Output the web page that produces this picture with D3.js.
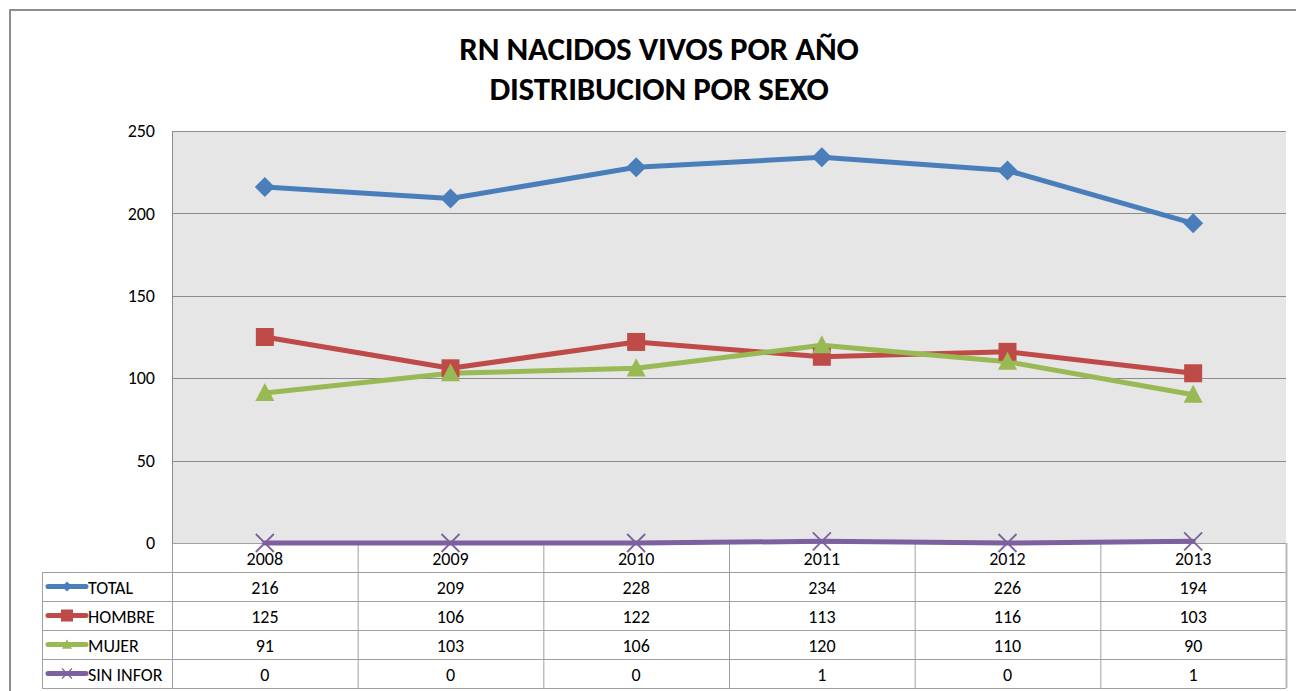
<!DOCTYPE html>
<html><head><meta charset="utf-8">
<script src="https://cdn.jsdelivr.net/npm/d3@7"></script>
<style>body{margin:0;background:#fff;}svg{display:block;font-family:Carlito,Lato,"Open Sans",sans-serif;}</style>
</head><body><svg id="c" width="1296" height="691"></svg>
<script>
const years = ["2008","2009","2010","2011","2012","2013"];
const seriesNames = ["TOTAL","HOMBRE","MUJER","SIN INFOR"];
const total = [216,209,228,234,226,194];
const hombre = [125,106,122,113,116,103];
const mujer = [91,103,106,120,110,90];
const sinInfor = [0,0,0,1,0,1];
const yTicks = [0,50,100,150,200,250];
const colors = ["#4a7ebb","#be4b48","#98b954","#7d60a0"];
const markers = ["diamond","square","triangle","x"];
const allValues = [total,hombre,mujer,sinInfor];

const svg = d3.select("#c");
svg.append("rect").attr("x",10).attr("y",10).attr("width",1300).attr("height",700)
  .attr("fill","#fff").attr("stroke","#8e8e8e").attr("stroke-width",2);

svg.append("text").attr("x",659).attr("y",60).attr("text-anchor","middle")
  .attr("font-size",33).attr("font-weight","bold").attr("fill","#000").attr("letter-spacing",-0.2).text("RN NACIDOS VIVOS POR AÑO");
svg.append("text").attr("x",659).attr("y",100).attr("text-anchor","middle")
  .attr("font-size",33).attr("font-weight","bold").attr("fill","#000").attr("letter-spacing",-0.2).text("DISTRIBUCION POR SEXO");

const L=172,R=1286,T=131,B=543;
const x = d3.scaleBand().domain(years).range([L,R]);
const y = d3.scaleLinear().domain([0,250]).range([B,T]);
const cx = yr => x(yr)+x.bandwidth()/2;

svg.append("rect").attr("x",L).attr("y",T).attr("width",R-L).attr("height",B-T).attr("fill","#e6e6e6");
svg.append("g").selectAll("line").data(yTicks).join("line")
  .attr("x1",L).attr("x2",R).attr("y1",d=>Math.round(y(d))+0.5).attr("y2",d=>Math.round(y(d))+0.5)
  .attr("stroke","#8c8c8c").attr("stroke-width",1);
svg.append("line").attr("x1",L+0.5).attr("x2",L+0.5).attr("y1",T).attr("y2",B).attr("stroke","#8c8c8c");

const yAxis = d3.axisLeft(y).tickValues(yTicks).tickSize(0).tickPadding(17);
const ya = svg.append("g").attr("transform",`translate(${L},0)`).call(yAxis);
ya.select(".domain").remove();
ya.selectAll("text").attr("font-size",18).attr("fill","#000").attr("font-family","Carlito,Lato,'Open Sans',sans-serif");

const rowH = 29;
const tg = svg.append("g");
const tableStroke = "#a0a0a0";
for(let i=0;i<=seriesNames.length+1;i++){
  const yy = B + i*rowH;
  tg.append("line").attr("x1", i===0?L:42).attr("x2",R).attr("y1",yy+0.5).attr("y2",yy+0.5).attr("stroke",tableStroke);
}
years.forEach(yr=>{
  tg.append("line").attr("x1",x(yr)+0.5).attr("x2",x(yr)+0.5).attr("y1",B).attr("y2",B+5*rowH).attr("stroke",tableStroke);
});
tg.append("line").attr("x1",R+0.5).attr("x2",R+0.5).attr("y1",B).attr("y2",B+5*rowH).attr("stroke","#b8b8b8").attr("stroke-width",2);
tg.append("line").attr("x1",42.5).attr("x2",42.5).attr("y1",B+rowH).attr("y2",B+5*rowH).attr("stroke",tableStroke);

tg.selectAll("text.yr").data(years).join("text").attr("class","yr")
  .attr("x",d=>cx(d)).attr("y",B+rowH/2+7).attr("text-anchor","middle")
  .attr("font-size",18).attr("fill","#000").text(d=>d);

function markerPath(type, s){
  const h=s/2;
  if(type==="diamond") return `M0,${-h}L${h},0L0,${h}L${-h},0Z`;
  if(type==="square") return `M${-h},${-h}H${h}V${h}H${-h}Z`;
  if(type==="triangle") return `M0,${-h*1.05}L${h},${h*0.85}L${-h},${h*0.85}Z`;
  return `M${-h},${-h}L${h},${h}M${h},${-h}L${-h},${h}`;
}

allValues.forEach((vals,si)=>{
  const ry = B + (si+1)*rowH;
  tg.selectAll("text.v"+si).data(vals).join("text")
    .attr("x",(d,i)=>cx(years[i])).attr("y",ry+rowH/2+7).attr("text-anchor","middle")
    .attr("font-size",18).attr("fill","#000").text(d=>d);
  const ky = ry+rowH/2;
  tg.append("line").attr("x1",48).attr("x2",86).attr("y1",ky).attr("y2",ky)
    .attr("stroke",colors[si]).attr("stroke-width",5).attr("stroke-linecap","round");
  const m = tg.append("path").attr("d", markerPath(markers[si], markers[si]==="square"?12:10))
    .attr("transform",`translate(67,${ky})`);
  if(markers[si]==="x") m.attr("stroke",colors[si]).attr("stroke-width",1.2).attr("fill","none");
  else m.attr("fill",colors[si]);
  tg.append("text").attr("x",88).attr("y",ky+7).attr("font-size",18).attr("fill","#000").text(seriesNames[si]);
});

const line = d3.line().x((d,i)=>cx(years[i])).y(d=>y(d));
allValues.forEach((vals,si)=>{
  svg.append("path").datum(vals).attr("d",line).attr("fill","none")
    .attr("stroke",colors[si]).attr("stroke-width",5).attr("stroke-linejoin","round").attr("stroke-linecap","round");
});
const sizes = {diamond:20, square:18, triangle:19, x:18};
allValues.forEach((vals,si)=>{
  const g = svg.append("g");
  vals.forEach((v,i)=>{
    const p = g.append("path").attr("d",markerPath(markers[si], sizes[markers[si]]))
      .attr("transform",`translate(${cx(years[i])},${y(v)})`);
    if(markers[si]==="x") p.attr("fill","none").attr("stroke",colors[si]).attr("stroke-width",1.8);
    else p.attr("fill",colors[si]);
  });
});
</script></body></html>
